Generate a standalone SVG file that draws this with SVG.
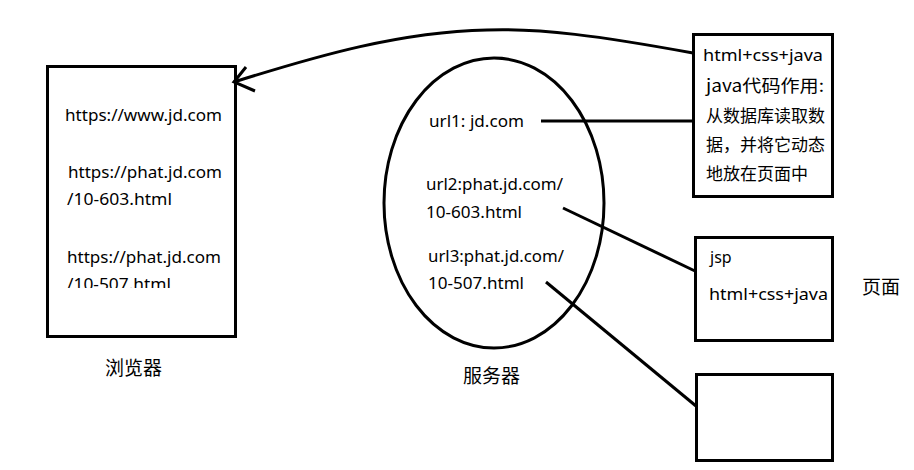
<svg xmlns="http://www.w3.org/2000/svg" width="914" height="470" viewBox="0 0 914 470">
<style>
.box{fill:none;stroke:#000;stroke-width:3}
.ln{fill:none;stroke:#000;stroke-width:3}
text{font-family:"Noto Sans","Noto Sans CJK SC",sans-serif;font-size:16px;fill:#000}
.cn{font-family:"Noto Sans CJK SC",sans-serif;font-size:17px}
</style>
<defs>
<clipPath id="clipB"><rect x="40" y="60" width="200" height="228"/></clipPath>
</defs>
<rect width="914" height="470" fill="#fff"/>
<g id="browser">
<rect class="box" x="47.5" y="66.5" width="188" height="270"/>
<text x="65" y="121" textLength="157" lengthAdjust="spacingAndGlyphs">https://www.jd.com</text>
<text x="68" y="178" textLength="154" lengthAdjust="spacingAndGlyphs">https://phat.jd.com</text>
<text x="67" y="205" textLength="105" lengthAdjust="spacingAndGlyphs">/10-603.html</text>
<text x="67" y="263" textLength="154" lengthAdjust="spacingAndGlyphs">https://phat.jd.com</text>
<text x="67" y="290" textLength="104" lengthAdjust="spacingAndGlyphs" clip-path="url(#clipB)">/10-507.html</text>
</g>
<g id="browser-label"><text class="cn" x="105" y="375" style="font-size:19px">浏览器</text></g>
<g id="server">
<ellipse class="box" cx="494" cy="203" rx="110" ry="145"/>
<text x="429" y="127" textLength="95" lengthAdjust="spacingAndGlyphs">url1: jd.com</text>
<text x="426" y="190" textLength="137" lengthAdjust="spacingAndGlyphs">url2:phat.jd.com/</text>
<text x="426" y="218" textLength="96" lengthAdjust="spacingAndGlyphs">10-603.html</text>
<text x="428" y="262" textLength="136" lengthAdjust="spacingAndGlyphs">url3:phat.jd.com/</text>
<text x="428" y="289" textLength="96" lengthAdjust="spacingAndGlyphs">10-507.html</text>
</g>
<g id="server-label"><text class="cn" x="463" y="383" style="font-size:19px">服务器</text></g>
<g id="page1">
<rect class="box" x="693.5" y="34.5" width="139" height="162"/>
<text x="703" y="61" textLength="120" lengthAdjust="spacingAndGlyphs">html+css+java</text>
<text class="cn" x="706" y="92" textLength="118" lengthAdjust="spacingAndGlyphs">java代码作用:</text>
<text class="cn" x="706" y="122" textLength="119" lengthAdjust="spacingAndGlyphs">从数据库读取数</text>
<text class="cn" x="706" y="151" textLength="119" lengthAdjust="spacingAndGlyphs">据，并将它动态</text>
<text class="cn" x="706" y="180" textLength="102" lengthAdjust="spacingAndGlyphs">地放在页面中</text>
</g>
<g id="page2">
<rect class="box" x="695.5" y="237.5" width="137" height="103"/>
<text x="710" y="263">jsp</text>
<text x="709" y="300" textLength="119" lengthAdjust="spacingAndGlyphs">html+css+java</text>
</g>
<g id="page-label"><text class="cn" x="862" y="294" style="font-size:19px">页面</text></g>
<g id="page3">
<rect class="box" x="696.5" y="374.5" width="136" height="86"/>
</g>
<g id="connectors">
<path class="ln" d="M693 53 C600 36 540 28 487 30 C400 32 320 55 234 82"/>
<path class="ln" d="M246 67 L234 82 L255 91"/>
<line class="ln" x1="541" y1="121" x2="693" y2="121"/>
<line class="ln" x1="563" y1="208" x2="695" y2="271"/>
<line class="ln" x1="546" y1="282" x2="696" y2="406"/>
</g>
</svg>
